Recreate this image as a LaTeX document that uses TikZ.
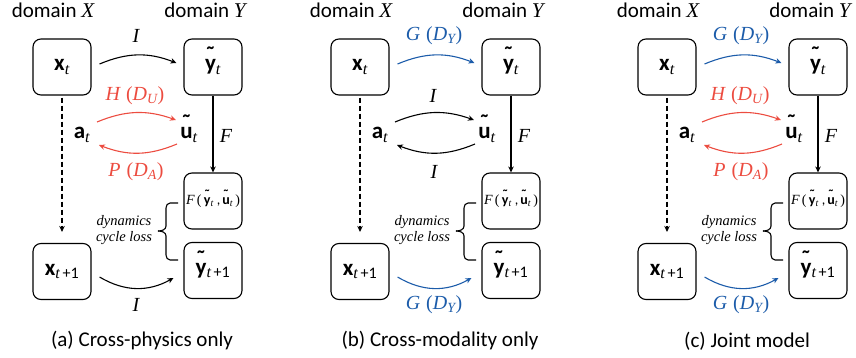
\documentclass[tikz,border=0pt]{standalone}
\usepackage{fontspec}
\setmainfont{Carlito}
\newfontfamily\tms{Liberation Serif}
\usetikzlibrary{arrows.meta}
\definecolor{cred}{RGB}{236,76,64}
\definecolor{cblue}{RGB}{28,92,170}
\newcommand\mi[1]{{\tms\itshape #1}}
\newcommand\sbi[1]{\textsubscript{\tms\itshape #1}}
\newcommand\sbn{\textsubscript{\tms\itshape t\,\upshape\fontspec{Carlito}+1}}
\newcommand\lbl[2]{\mi{#1}\hspace{0.3em}{\tms(}\mi{D}\sbi{#2}{\tms)}}
\newcommand\tld[1]{\leavevmode\ooalign{#1\cr\hidewidth\raisebox{0.34em}{\char"02DC}\hidewidth\cr}}
\tikzset{
  bx/.style={draw, line width=1.1pt, rounded corners=8pt, minimum width=58pt, minimum height=56pt, inner sep=0pt},
  lab/.style={font=\fontsize{21}{24}\selectfont, inner sep=0pt},
  blab/.style={font=\fontsize{23}{26}\selectfont, inner sep=0pt},
  mlab/.style={font=\fontsize{20}{24}\selectfont, inner sep=0pt},
  arr/.style={line width=1.1pt, -{Stealth[length=6pt,width=5.5pt]}},
  dyn/.style={font=\fontsize{14.5}{16.5}\selectfont\tms\itshape, align=center, inner sep=0pt},
  fbtxt/.style={font=\fontsize{14}{17}\selectfont},
}
\newcommand\panel[3]{%
  \node[lab] (#1dx) at ({#2+53},10) {domain \mi{X}};
  \node[lab] (#1dy) at ({#2+205},10) {domain \mi{Y}};
  \node[bx,blab] (#1xt) at ({#2+62},67) {\textbf{x}\sbi{t}};
  \node[bx,blab] (#1yt) at ({#2+213},67) {\textbf{\tld{y}}\sbi{t}};
  \node[bx,fbtxt] (#1fb) at ({#2+213},201) {{\tms\itshape F\,\upshape(}\,\textbf{\tld{y}}\sbi{t}\hspace{3pt},\hspace{2pt}\textbf{\tld{u}}\sbi{t}\,{\tms)}};
  \node[bx,blab] (#1yn) at ({#2+213},270.5) {\textbf{\tld{y}}\sbn};
  \node[bx,blab] (#1xn) at ({#2+62},271.5) {\textbf{x}\sbn};
  \node[blab] (#1at) at ({#2+82},135) {\textbf{a}\sbi{t}};
  \node[blab] (#1ut) at ({#2+189},135) {\textbf{\tld{u}}\sbi{t}};
  \node[mlab] (#1F) at ({#2+226},136) {\mi{F}};
  \draw[arr] (#1yt) -- (#1fb);
  \draw[arr, dashed, dash pattern=on 5pt off 3pt, shorten <=2pt, shorten >=11pt] (#1xt) -- (#1xn);
  \node[dyn] (#1dyn) at ({#2+124},230) {dynamics\\cycle loss};
  \draw[line width=1.1pt] ({#2+178},203) -- ({#2+170},203) to[out=180,in=90] ({#2+166},208) -- ({#2+166},226) to[out=-90,in=0] ({#2+158},231);
  \draw[line width=1.1pt] ({#2+158},231) to[out=0,in=90] ({#2+166},236) -- ({#2+166},255) to[out=-90,in=180] ({#2+170},260) -- ({#2+178},260);
  \node[lab] (#1cap) at ({#2+142},341) {#3};
}
\newcommand\toparr[4]{% prefix, offset, colour, label
  \draw[arr, #3] ([xshift=8pt,yshift=3pt]#1xt.east) to[bend left=22] ([xshift=-7pt,yshift=4pt]#1yt.west);
  \node[mlab, text=#3] (#1tl) at ({#2+136},36) {#4};
}
\newcommand\botarr[4]{%
  \draw[arr, #3] ([xshift=8pt,yshift=-5.5pt]#1xn.east) to[bend right=30] ([xshift=-10pt,yshift=-7.5pt]#1yn.west);
  \node[mlab, text=#3] (#1bl) at ({#2+136},305) {#4};
}
\newcommand\midarr[5]{% prefix, offset, colour, upper label, lower label
  \draw[arr, #3] ([xshift=15pt,yshift=13pt]#1at.center) to[bend left=21] ([xshift=-13pt,yshift=15pt]#1ut.center);
  \draw[arr, #3] ([xshift=-12pt,yshift=-9pt]#1ut.center) to[bend left=22] ([xshift=17pt,yshift=-10pt]#1at.center);
  \node[mlab, text=#3] (#1ml) at ({#2+135},96) {#4};
  \node[mlab, text=#3] (#1pl) at ({#2+136},172) {#5};
}
\begin{document}
\begin{tikzpicture}[x=1pt,y=-1pt]
\useasboundingbox (0,0) rectangle (856,358);
% (a)
\panel{a}{0}{(a) Cross-physics only}
\toparr{a}{0}{black}{\mi{I}}
\midarr{a}{0}{cred}{\lbl{H}{U}}{\lbl{P}{A}}
\botarr{a}{0}{black}{\mi{I}}
% (b)
\panel{b}{298}{(b) Cross-modality only}
\toparr{b}{298}{cblue}{\lbl{G}{Y}}
\midarr{b}{298}{black}{\mi{I}}{\mi{I}}
\botarr{b}{298}{cblue}{\lbl{G}{Y}}
% (c)
\panel{c}{605}{(c) Joint model}
\toparr{c}{605}{cblue}{\lbl{G}{Y}}
\midarr{c}{605}{cred}{\lbl{H}{U}}{\lbl{P}{A}}
\botarr{c}{605}{cblue}{\lbl{G}{Y}}
\end{tikzpicture}
\end{document}
